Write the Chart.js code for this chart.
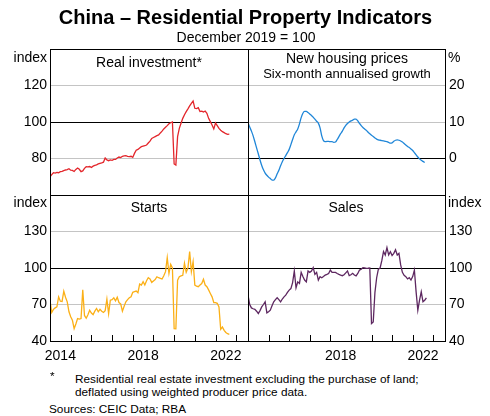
<!DOCTYPE html>
<html>
<head>
<meta charset="utf-8">
<title>China – Residential Property Indicators</title>
<script src="https://cdn.jsdelivr.net/npm/chart.js@4.4.0/dist/chart.umd.min.js"></script>
<style>
  body { margin: 0; background: #fff; }
  #wrap { position: relative; width: 490px; height: 416px; overflow: hidden;
          font-family: "Liberation Sans", Arial, sans-serif; color: #000; }
  #wrap canvas { position: absolute; }
  .t { position: absolute; white-space: nowrap; line-height: 1; }
  .c { transform: translate(-50%, -50%); }
  .l { transform: translateY(-50%); }
  .line { position: absolute; background: #000; }
  .note { font-size: 11.8px; }
</style>
</head>
<body>
<div id="wrap">
  <canvas id="invest" width="248" height="155" style="left:0;top:40px"></canvas>
  <canvas id="prices" width="242" height="155" style="left:248px;top:40px"></canvas>
  <canvas id="starts" width="248" height="172" style="left:0;top:195px"></canvas>
  <canvas id="sales" width="242" height="172" style="left:248px;top:195px"></canvas>

  <!-- panel frame -->
  <div class="line" style="left:50px;top:49px;width:396px;height:1px"></div>
  <div class="line" style="left:50px;top:195px;width:396px;height:1px"></div>
  <div class="line" style="left:50px;top:341px;width:396px;height:1px"></div>
  <div class="line" style="left:50px;top:49px;width:1px;height:293px"></div>
  <div class="line" style="left:248px;top:49px;width:1px;height:293px"></div>
  <div class="line" style="left:445px;top:49px;width:1px;height:293px"></div>

  <div class="t c" style="left:245.5px;top:17px;font-size:20px;font-weight:bold">China – Residential Property Indicators</div>
  <div class="t c" style="left:246px;top:37px;font-size:14px">December 2019 = 100</div>

  <div class="t l" style="right:443px;top:57px;font-size:14px">index</div>
  <div class="t l" style="left:448px;top:57px;font-size:14px">%</div>
  <div class="t l" style="right:443px;top:202px;font-size:14px">index</div>
  <div class="t l" style="left:448px;top:202px;font-size:14px">index</div>

  <div class="t c" style="left:149px;top:62px;font-size:14px">Real investment*</div>
  <div class="t c" style="left:347px;top:58px;font-size:14px">New housing prices</div>
  <div class="t c" style="left:347px;top:73px;font-size:13px">Six-month annualised growth</div>
  <div class="t c" style="left:149px;top:207px;font-size:14px">Starts</div>
  <div class="t c" style="left:346px;top:207px;font-size:14px">Sales</div>

  <div class="t l note" style="left:50px;top:377px">*</div>
  <div class="t l note" style="left:75px;top:380px">Residential real estate investment excluding the purchase of land;</div>
  <div class="t l note" style="left:75px;top:393px">deflated using weighted producer price data.</div>
  <div class="t l note" style="left:49px;top:410px">Sources: CEIC Data; RBA</div>
</div>

<script>
// monthly series, January 2014 onwards
const startYear = 2014;
const xMax = 2023.57;

const realInvestment = [
  70.0, 71.2, 72.2, 72.0, 72.4, 72.2, 72.8, 73.0, 73.4, 73.7,
  73.9, 74.4, 73.6, 73.5, 72.9, 74.0, 74.8, 74.1, 72.8, 73.2,
  74.6, 75.5, 75.4, 75.6, 75.1, 75.8, 76.2, 76.5, 77.0, 77.3,
  77.6, 78.0, 80.3, 79.2, 78.8, 79.2, 79.0, 79.5, 79.5, 80.3,
  80.8, 80.5, 81.2, 81.4, 81.6, 81.2, 81.0, 81.2, 80.6, 82.8,
  84.5, 85.0, 85.8, 86.5, 86.8, 87.0, 87.4, 88.5, 89.5, 91.0,
  91.5, 92.0, 92.5, 92.9, 94.0, 95.0, 96.2, 97.1, 98.0, 99.0,
  99.6, 100.0, 77.0, 76.4, 92.0, 96.5, 99.3, 102.0, 104.0, 105.7,
  107.2, 108.8, 110.2, 111.5, 107.5, 107.3, 107.8, 105.7, 105.9, 105.5,
  106.0, 104.8, 102.0, 100.2, 98.4, 96.2, 99.4, 98.0, 96.5, 95.5,
  94.7, 94.2, 93.6, 93.2, 93.3
];

const housingPrices = [
  9.8, 8.6, 7.5, 6.2, 4.6, 2.9, 1.3, -0.4, -1.9, -3.1,
  -4.0, -4.6, -5.1, -5.5, -5.9, -5.9, -5.3, -4.2, -3.2, -2.0,
  -0.9, 0.0, 0.8, 1.6, 2.5, 3.8, 5.2, 6.5, 7.3, 8.1,
  9.5, 11.2, 12.4, 12.9, 12.9, 12.6, 12.2, 11.8, 11.3, 10.8,
  10.2, 9.7, 8.4, 6.2, 4.9, 4.6, 4.7, 4.7, 4.6, 4.6,
  4.4, 4.5, 5.2, 6.0, 6.8, 7.5, 8.4, 9.1, 9.6, 10.0,
  10.3, 10.5, 10.8, 10.8, 10.3, 9.6, 9.0, 8.5, 8.1, 7.7,
  7.2, 6.8, 6.4, 6.0, 5.6, 5.3, 5.1, 5.0, 4.9, 4.8,
  4.7, 4.6, 4.4, 4.2, 4.3, 4.7, 5.0, 5.1, 5.0, 4.8,
  4.5, 4.1, 3.7, 3.3, 3.0, 2.6, 2.2, 1.6, 1.0, 0.4,
  -0.1, -0.5, -0.8, -1.1
];

const housingStarts = [
  73.6, 63.4, 66.0, 67.2, 68.0, 76.3, 72.7, 72.5, 81.0, 76.0,
  72.2, 64.0, 60.0, 57.0, 50.2, 54.0, 58.4, 58.0, 58.5, 82.0,
  61.0, 58.7, 61.5, 65.3, 63.0, 61.7, 64.5, 66.7, 64.0, 66.0,
  64.5, 63.5, 65.0, 74.4, 62.5, 73.5, 74.0, 75.5, 73.0, 76.0,
  71.6, 70.5, 64.5, 68.5, 72.2, 74.0, 75.5, 76.3, 80.0, 80.5,
  81.0, 79.7, 86.8, 86.0, 88.8, 86.0, 89.5, 92.0, 91.0, 88.2,
  89.4, 90.5, 92.8, 92.0, 91.5, 91.0, 93.6, 97.0, 108.5, 95.6,
  103.0, 100.0, 50.2, 50.0, 90.0, 92.8, 93.5, 94.0, 103.9, 96.5,
  100.0, 113.5, 97.0, 105.2, 86.0, 85.0, 84.6, 86.0, 87.2, 90.7,
  86.0, 84.6, 82.0, 79.1, 76.3, 71.6, 71.6, 71.0, 68.0, 49.6,
  51.5, 48.8, 47.0, 46.0, 45.5
];

const housingSales = [
  77.7, 70.0, 67.2, 66.5, 66.0, 64.5, 62.6, 65.0, 68.0, 70.0,
  72.2, 63.1, 64.0, 65.3, 69.0, 72.2, 74.0, 75.5, 74.0, 72.2,
  74.5, 76.3, 77.7, 79.9, 81.8, 83.1, 88.0, 97.5, 83.7, 88.6,
  87.3, 96.4, 93.0, 90.1, 88.6, 97.5, 96.4, 97.5, 100.3, 94.8,
  96.4, 90.1, 92.9, 92.0, 93.0, 94.2, 94.8, 95.5, 98.3, 96.4,
  96.4, 96.4, 95.5, 94.8, 94.2, 93.7, 94.5, 96.0, 97.5, 93.7,
  94.5, 95.6, 94.2, 93.5, 95.5, 98.3, 99.0, 100.3, 100.0, 99.7,
  99.8, 100.0, 54.3, 55.6, 80.0, 92.0, 99.0, 100.0, 106.0, 113.5,
  110.7, 116.8, 110.7, 113.4, 110.3, 112.0, 115.0, 110.7, 112.0, 102.5,
  96.4, 94.0, 92.9, 91.0, 92.0, 90.1, 92.9, 98.3, 80.4, 65.3,
  73.5, 80.4, 72.2, 73.5, 75.5
];

const leftYearLabels = [2014, 2018, 2022];
const rightYearLabels = [2018, 2022];
const indexTicksTop = [80, 100, 120];
const growthTicks = [0, 10, 20];
const indexTicksBottom = [40, 70, 100, 130];

Chart.defaults.font.family = '"Liberation Sans", Arial, sans-serif';
Chart.defaults.font.size = 14;
Chart.defaults.color = '#000';

function toPoints(values) {
  return values.map((v, i) => ({ x: startYear + i / 12, y: v }));
}

// short tick marks at each year boundary, pointing up into the panel
const yearTicks = {
  id: 'yearTicks',
  afterDraw(chart) {
    const { ctx, chartArea, scales } = chart;
    ctx.save();
    ctx.strokeStyle = '#000';
    ctx.lineWidth = 1;
    ctx.beginPath();
    for (let y = startYear + 1; y <= Math.floor(xMax); y++) {
      const px = Math.round(scales.x.getPixelForValue(y)) + 0.5;
      ctx.moveTo(px, chartArea.bottom);
      ctx.lineTo(px, chartArea.bottom - 6);
    }
    ctx.stroke();
    ctx.restore();
  }
};

function makePanel(cfg) {
  const left = cfg.side === 'left';
  return new Chart(document.getElementById(cfg.id), {
    type: 'line',
    data: {
      datasets: [{
        data: toPoints(cfg.values),
        borderColor: cfg.color,
        borderWidth: 1.3,
        pointRadius: 0,
        tension: cfg.smooth ? 0.4 : 0,
        cubicInterpolationMode: cfg.smooth ? 'monotone' : 'default'
      }]
    },
    options: {
      responsive: false,
      animation: false,
      layout: { padding: { top: cfg.padTop || 0, left: 0, right: 0, bottom: 0 } },
      plugins: { legend: { display: false }, tooltip: { enabled: false } },
      scales: {
        x: {
          type: 'linear',
          min: startYear,
          max: xMax,
          display: !!cfg.years,
          grid: { display: false, drawTicks: false },
          border: { display: false },
          afterBuildTicks: s => { s.ticks = (cfg.years || []).map(y => ({ value: y + 0.5 })); },
          afterFit: s => {
            s.height = cfg.years ? 26 : 0;
            s.paddingLeft = 0;
            s.paddingRight = 0;
          },
          ticks: {
            autoSkip: false,
            maxRotation: 0,
            padding: 7,
            callback: v => String(Math.floor(v))
          }
        },
        y: {
          position: cfg.side,
          min: cfg.yMin,
          max: cfg.yMax,
          afterBuildTicks: s => {
            const t = [];
            for (let v = cfg.yMin; v <= cfg.yMax; v += cfg.step) t.push({ value: v });
            s.ticks = t;
          },
          afterFit: s => {
            s.width = left ? 50 : 45;
            // labels may hang past the panel edges; keep the plot area fixed
            s.paddingTop = 0;
            s.paddingBottom = 0;
          },
          grid: {
            drawTicks: false,
            lineWidth: 1,
            color: c => {
              const v = c.tick.value;
              if (v === cfg.yMin || v === cfg.yMax) return 'rgba(0,0,0,0)';
              return v === cfg.base ? '#000' : '#c4c4c4';
            }
          },
          border: { display: false },
          ticks: {
            padding: left ? 3 : 4,
            callback: v => cfg.labels.includes(v) ? String(v) : ''
          }
        }
      }
    },
    plugins: cfg.years ? [yearTicks] : []
  });
}

makePanel({ id: 'invest', values: realInvestment, color: '#e3262b', side: 'left',
  yMin: 60, yMax: 140, step: 20, base: 100, labels: indexTicksTop, padTop: 9 });

makePanel({ id: 'prices', values: housingPrices, color: '#1f86d8', side: 'right',
  yMin: -10, yMax: 30, step: 10, base: 0, labels: growthTicks, padTop: 9, smooth: true });

makePanel({ id: 'starts', values: housingStarts, color: '#fbb017', side: 'left',
  yMin: 40, yMax: 160, step: 30, base: 100, labels: indexTicksBottom, years: leftYearLabels });

makePanel({ id: 'sales', values: housingSales, color: '#5d2760', side: 'right',
  yMin: 40, yMax: 160, step: 30, base: 100, labels: indexTicksBottom, years: rightYearLabels });
</script>
</body>
</html>
